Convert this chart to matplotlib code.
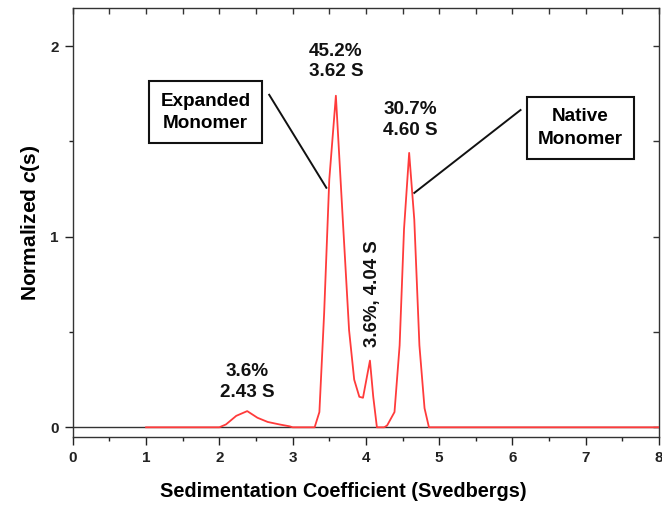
import matplotlib
matplotlib.use("Agg")
import matplotlib.pyplot as plt
from matplotlib.ticker import MultipleLocator

plt.rcParams['font.family'] = ['Liberation Sans', 'DejaVu Sans']
plt.rcParams['font.weight'] = 'bold'
plt.rcParams['mathtext.fontset'] = 'custom'
plt.rcParams['mathtext.bf'] = 'Liberation Sans:bold'
plt.rcParams['mathtext.bfit'] = 'Liberation Sans:italic:bold'

# c(s) distribution (sedimentation coefficient in S, normalized c(s))
s_values = [1.0, 2.0, 2.09, 2.23, 2.38, 2.52, 2.66, 2.82, 2.96, 3.0,
            3.30, 3.365, 3.43, 3.50, 3.59, 3.68, 3.77, 3.84, 3.91, 3.96,
            4.055, 4.10, 4.15, 4.25, 4.29, 4.39, 4.46, 4.52, 4.59, 4.66,
            4.73, 4.80, 4.86, 8.0]
cs_values = [0.0, 0.0, 0.015, 0.06, 0.085, 0.05, 0.028, 0.015, 0.005, 0.0,
             0.0, 0.08, 0.60, 1.30, 1.74, 1.12, 0.51, 0.25, 0.16, 0.155,
             0.35, 0.16, 0.0, 0.0, 0.01, 0.08, 0.43, 1.04, 1.44, 1.09,
             0.43, 0.10, 0.0, 0.0]

# peak labels: text centre (s, c(s)) and text
peak_x = [3.59, 4.60, 2.38]
peak_y = [1.92, 1.613, 0.238]
peak_text = ["45.2%\n3.62 S", "30.7%\n4.60 S", "3.6%\n2.43 S"]

fig = plt.figure(figsize=(6.62, 5.05), dpi=100)
ax = fig.add_axes([0.110, 0.135, 0.8855, 0.849])

ax.plot([0, 8], [0, 0], color="#333333", lw=1.0, zorder=2)
ax.plot(s_values, cs_values, color="#ff3b3b", lw=1.3, zorder=3)

ax.set_xlim(0, 8)
ax.set_ylim(-0.05, 2.2)
ax.xaxis.set_major_locator(MultipleLocator(1))
ax.xaxis.set_minor_locator(MultipleLocator(0.5))
ax.yaxis.set_major_locator(MultipleLocator(1))
ax.yaxis.set_minor_locator(MultipleLocator(0.5))
ax.tick_params(which="major", direction="out", length=6, width=1,
               labelsize=11, colors="#222222", pad=4)
ax.tick_params(which="minor", direction="out", length=3, width=1,
               colors="#222222")
for lbl in ax.get_xticklabels() + ax.get_yticklabels():
    lbl.set_fontweight("bold")
for sp in ax.spines.values():
    sp.set_color("#333333")
    sp.set_linewidth(1.0)

# inward ticks on the top and right sides
sec_top = ax.secondary_xaxis("top")
sec_top.xaxis.set_major_locator(MultipleLocator(0.5))
sec_top.tick_params(direction="in", length=4, width=1, labeltop=False,
                    colors="#333333")
sec_right = ax.secondary_yaxis("right")
sec_right.yaxis.set_major_locator(MultipleLocator(0.5))
sec_right.tick_params(direction="in", length=4, width=1, labelright=False,
                      colors="#333333")
sec_top.spines["top"].set_visible(False)
sec_right.spines["right"].set_visible(False)

ax.set_xlabel("Sedimentation Coefficient (Svedbergs)", fontsize=14.3,
              fontweight="bold")
ax.xaxis.set_label_coords(0.461, -0.106)
ax.set_ylabel(r"Normalized $\mathbfit{c}$(s)", fontsize=15,
              fontweight="bold", labelpad=6)

for px, py, t in zip(peak_x, peak_y, peak_text):
    ax.text(px, py, t, ha="center", va="center", fontsize=13.6,
            fontweight="bold", linespacing=1.25, color="#111111")

ax.text(4.09, 0.70, "3.6%, 4.04 S", rotation=90, ha="center", va="center",
        fontsize=13.4, fontweight="bold", color="#111111")

box = dict(boxstyle="square,pad=0.6", fc="white", ec="#111111", lw=1.5)
ax.text(1.81, 1.654, "Expanded\nMonomer", ha="center", va="center",
        fontsize=13.6, fontweight="bold", bbox=box, linespacing=1.4)
ax.text(6.93, 1.571, "Native\nMonomer", ha="center", va="center",
        fontsize=13.6, fontweight="bold", bbox=box, linespacing=1.4)

ax.plot([2.68, 3.46], [1.745, 1.257], color="#111111", lw=1.4)
ax.plot([6.11, 4.66], [1.665, 1.230], color="#111111", lw=1.4)

fig.savefig("out.png", dpi=100)
